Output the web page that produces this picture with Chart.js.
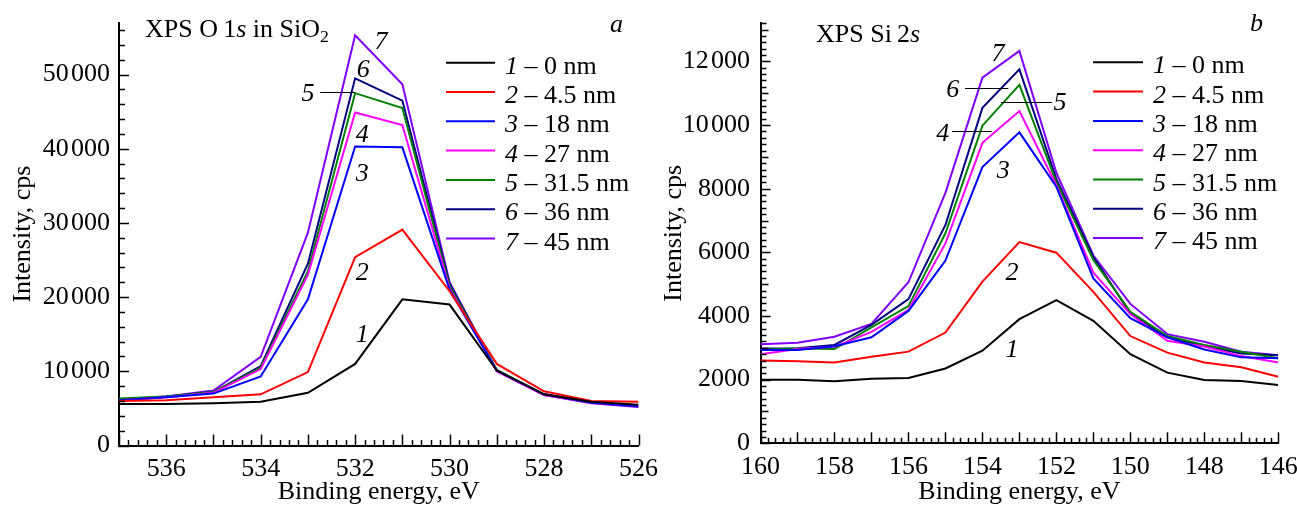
<!DOCTYPE html>
<html>
<head>
<meta charset="utf-8">
<script src="https://cdn.jsdelivr.net/npm/chart.js@4.4.1/dist/chart.umd.min.js"></script>
<style>
  html, body { margin: 0; padding: 0; background: #fff; }
  #wrap { position: relative; width: 1297px; height: 510px; overflow: hidden; }
  #cA { position: absolute; left: 0; top: 0; }
  #cB { position: absolute; left: 640px; top: 0; }
</style>
</head>
<body>
<div id="wrap">
  <canvas id="cA" width="665" height="510"></canvas>
  <canvas id="cB" width="657" height="510"></canvas>
</div>
<script>
// ---- O 1s spectra (binding energy, eV; intensity, cps) ----
const energyO = [537, 536, 535, 534, 533, 532, 531, 530, 529, 528, 527, 526];
const o1s_0nm    = [5600, 5600, 5700, 5900, 7100, 11000, 19700, 19000, 10100, 6900, 5900, 5500];
const o1s_4_5nm  = [6000, 6100, 6500, 6900, 9900, 25400, 29100, 20800, 11000, 7300, 6000, 5900];
const o1s_18nm   = [6100, 6500, 7000, 9300, 19700, 40300, 40200, 21000, 10100, 6900, 5800, 5300];
const o1s_27nm   = [6100, 6500, 7100, 10300, 23000, 44900, 43200, 21200, 10000, 6800, 5800, 5300];
const o1s_31_5nm = [6350, 6600, 7200, 10500, 23500, 47500, 45500, 21500, 10200, 6900, 5800, 5400];
const o1s_36nm   = [6200, 6600, 7200, 10700, 24500, 49500, 46500, 21800, 10100, 6900, 5800, 5300];
const o1s_45nm   = [6000, 6600, 7400, 11950, 28700, 55300, 48700, 22000, 10000, 6800, 5700, 5200];

// ---- Si 2s spectra ----
const energySi = [160, 159, 158, 157, 156, 155, 154, 153, 152, 151, 150, 149, 148, 147, 146];
const si_0nm    = [2000, 2000, 1950, 2030, 2050, 2350, 2910, 3900, 4500, 3850, 2800, 2220, 1990, 1960, 1830];
const si_4_5nm  = [2600, 2580, 2540, 2720, 2880, 3480, 5080, 6320, 5990, 4760, 3370, 2850, 2540, 2390, 2090];
const si_18nm   = [2930, 2930, 3050, 3330, 4160, 5740, 8680, 9770, 8060, 5180, 3930, 3330, 2950, 2700, 2670];
const si_27nm   = [2800, 2960, 3030, 3500, 4190, 6280, 9440, 10440, 8110, 5360, 4060, 3220, 3040, 2740, 2540];
const si_31_5nm = [2950, 2980, 2960, 3640, 4310, 6600, 9980, 11260, 8200, 5760, 4130, 3370, 3090, 2880, 2670];
const si_36nm   = [2980, 2990, 3090, 3720, 4530, 6860, 10540, 11750, 8300, 5860, 4080, 3330, 3060, 2820, 2770];
const si_45nm   = [3110, 3160, 3350, 3750, 5060, 7870, 11490, 12330, 8500, 5900, 4380, 3430, 3190, 2880, 2770];

// ---- curve numbering and depth labels ----
const curveNumbers = ['1', '2', '3', '4', '5', '6', '7'];
const depthLabels = ['0 nm', '4.5 nm', '18 nm', '27 nm', '31.5 nm', '36 nm', '45 nm'];
const curveColors = ['#000000', '#ff0000', '#0000ff', '#ff00ff', '#008000', '#000080', '#8000ff'];

// y-axis tick labels
const yTicksO = [0, 10000, 20000, 30000, 40000, 50000];
const yTicksSi = [0, 2000, 4000, 6000, 8000, 10000, 12000];

// curve number callouts: [curve index, energy, intensity] and optional leader [e1, e2, intensity]
const calloutsO = [
  { n: 6, e: 531.45, v: 54600 },
  { n: 5, e: 531.83, v: 50800 },
  { n: 4, e: 533.0, v: 47600, lead: [532.74, 532.0, 47600] },
  { n: 3, e: 531.85, v: 42060 },
  { n: 2, e: 531.85, v: 36800 },
  { n: 1, e: 531.85, v: 23400 },
  { n: 0, e: 531.85, v: 15140 }
];
const calloutsSi = [
  { n: 6, e: 153.58, v: 12290 },
  { n: 5, e: 154.80, v: 11160, lead: [154.47, 153.3, 11170] },
  { n: 4, e: 151.90, v: 10730, lead: [153.5, 152.12, 10720] },
  { n: 3, e: 155.07, v: 9750, lead: [154.82, 153.75, 9810] },
  { n: 2, e: 153.44, v: 8590 },
  { n: 1, e: 153.20, v: 5390 },
  { n: 0, e: 153.20, v: 2990 }
];

const SERIF = '"Liberation Serif", "Times New Roman", serif';
const FS = 26;

function fmtThousands(v) {
  const s = String(v);
  return v >= 10000 ? s.slice(0, s.length - 3) + '\u200A' + s.slice(-3) : s;
}

// mixed upright / italic / subscript text
function richText(ctx, parts, x, y, size) {
  let cx = x;
  for (const p of parts) {
    const fs = p.sub ? size * 0.68 : size;
    ctx.font = (p.i ? 'italic ' : '') + fs + 'px ' + SERIF;
    ctx.fillText(p.t, cx, p.sub ? y + size * 0.2 : y);
    cx += ctx.measureText(p.t).width;
  }
  return cx;
}

// inward major/minor tick marks drawn from the chart's scales
const tickMarks = {
  id: 'tickMarks',
  afterDraw(chart, args, o) {
    const ctx = chart.ctx, a = chart.chartArea;
    const xs = chart.scales.x, ys = chart.scales.y;
    ctx.save();
    ctx.strokeStyle = '#000';
    ctx.lineWidth = 1.5;
    const isMult = (v, s) => Math.abs(v / s - Math.round(v / s)) < 1e-6;
    const nx = Math.round((xs.max - xs.min) / o.xMinor);
    for (let i = 0; i <= nx; i++) {
      const v = xs.min + i * o.xMinor;
      const px = Math.round(xs.getPixelForValue(v)) + 0.5;
      const len = isMult(v, o.xMajor) ? 11 : 5.5;
      ctx.beginPath(); ctx.moveTo(px, a.bottom); ctx.lineTo(px, a.bottom - len); ctx.stroke();
    }
    const ny = Math.floor((ys.max - ys.min) / o.yMinor + 1e-6);
    for (let i = 0; i <= ny; i++) {
      const v = ys.min + i * o.yMinor;
      const py = Math.round(ys.getPixelForValue(v)) + 0.5;
      const len = isMult(v, o.yMajor) ? 10 : (o.yMid && isMult(v, o.yMid) ? 8 : 6);
      ctx.beginPath(); ctx.moveTo(a.left, py); ctx.lineTo(a.left + len, py); ctx.stroke();
    }
    ctx.restore();
  }
};

// legend, title, panel letter and curve callouts
const annotations = {
  id: 'annotations',
  afterDraw(chart, args, o) {
    const ctx = chart.ctx;
    const xs = chart.scales.x, ys = chart.scales.y;
    ctx.save();
    ctx.fillStyle = '#000';
    ctx.textAlign = 'left';
    ctx.textBaseline = 'alphabetic';
    // title
    richText(ctx, o.title, o.titleX, o.titleY, FS);
    // panel letter
    richText(ctx, [{ t: o.letter, i: true }], o.letterX, o.letterY, FS);
    // legend
    chart.data.datasets.forEach((ds, k) => {
      const y = o.legY + k * o.legDy;
      ctx.strokeStyle = ds.borderColor;
      ctx.lineWidth = 2;
      ctx.beginPath(); ctx.moveTo(o.legX, y); ctx.lineTo(o.legX + o.legLen, y); ctx.stroke();
      ctx.fillStyle = '#000';
      richText(ctx, [{ t: curveNumbers[k], i: true }, { t: ' \u2013 ' + depthLabels[k] }],
        o.legX + o.legLen + 10, y + 11, FS);
    });
    // callouts
    ctx.textAlign = 'center';
    ctx.font = 'italic ' + FS + 'px ' + SERIF;
    ctx.strokeStyle = '#000';
    ctx.lineWidth = 1.2;
    for (const c of o.callouts) {
      const px = xs.getPixelForValue(c.e), py = ys.getPixelForValue(c.v);
      ctx.fillText(curveNumbers[c.n], px, py + 8.5);
      if (c.lead) {
        const ly = Math.round(ys.getPixelForValue(c.lead[2])) + 0.5;
        ctx.beginPath();
        ctx.moveTo(xs.getPixelForValue(c.lead[0]), ly);
        ctx.lineTo(xs.getPixelForValue(c.lead[1]), ly);
        ctx.stroke();
      }
    }
    ctx.restore();
  }
};

function makeDatasets(series) {
  return series.map((d, k) => ({
    label: curveNumbers[k] + ' \u2013 ' + depthLabels[k],
    data: d,
    borderColor: curveColors[k],
    backgroundColor: curveColors[k],
    borderWidth: 2,
    pointRadius: 0,
    tension: 0,
    fill: false
  }));
}

function makeChart(canvas, cfg) {
  return new Chart(canvas, {
    type: 'line',
    data: {
      labels: cfg.energy,
      datasets: makeDatasets(cfg.series).map(ds => ({
        ...ds,
        data: ds.data.map((v, i) => ({ x: cfg.energy[i], y: v }))
      }))
    },
    options: {
      responsive: false,
      animation: false,
      devicePixelRatio: 1,
      layout: { padding: cfg.pad },
      plugins: {
        legend: { display: false },
        tooltip: { enabled: false },
        tickMarks: cfg.ticks,
        annotations: cfg.ann
      },
      scales: {
        x: {
          type: 'linear',
          reverse: true,
          min: cfg.xMin, max: cfg.xMax,
          afterFit: s => { s.height = cfg.xHeight; s.paddingLeft = 0; s.paddingRight = 0; },
          border: { display: true, color: '#000', width: 2 },
          grid: { display: true, drawOnChartArea: false, drawTicks: false },
          ticks: {
            stepSize: 2,
            includeBounds: false,
            autoSkip: false,
            maxRotation: 0,
            padding: cfg.xTickPad,
            color: '#000',
            font: { family: SERIF, size: FS },
            callback: v => String(v)
          },
          title: {
            display: true,
            text: 'Binding energy, eV',
            color: '#000',
            font: { family: SERIF, size: FS },
            padding: { top: 0, bottom: cfg.xTitlePad }
          }
        },
        y: {
          type: 'linear',
          min: 0, max: cfg.yMax,
          afterFit: s => { s.width = cfg.yWidth; s.paddingTop = 0; s.paddingBottom = 0; },
          afterBuildTicks: s => { s.ticks = cfg.yTicks.map(v => ({ value: v })); },
          border: { display: true, color: '#000', width: 2 },
          grid: { display: true, drawOnChartArea: false, drawTicks: false },
          ticks: {
            padding: cfg.yTickPad,
            color: '#000',
            font: { family: SERIF, size: FS },
            callback: v => fmtThousands(v)
          },
          title: {
            display: true,
            text: 'Intensity, cps',
            color: '#000',
            font: { family: SERIF, size: FS },
            padding: { top: cfg.yTitlePad, bottom: 0 }
          }
        }
      }
    },
    plugins: [tickMarks, annotations]
  });
}

// left panel: canvas origin at page x = 0
makeChart(document.getElementById('cA'), {
  energy: energyO,
  series: [o1s_0nm, o1s_4_5nm, o1s_18nm, o1s_27nm, o1s_31_5nm, o1s_36nm, o1s_45nm],
  xMin: 526, xMax: 537, yMax: 57000, yTicks: yTicksO,
  pad: { left: 0, right: 26.5, top: 22.7, bottom: 0 },
  xHeight: 64.5, yWidth: 119,
  xTickPad: 8, yTickPad: 9, xTitlePad: 2, yTitlePad: 7.5,
  ticks: { xMinor: 0.2, xMajor: 1, yMinor: 2000, yMajor: 10000 },
  ann: {
    title: [{ t: 'XPS O\u20091' }, { t: 's', i: true }, { t: ' in SiO' }, { t: '2', sub: true }],
    titleX: 145, titleY: 36.7,
    letter: 'a', letterX: 610, letterY: 31.7,
    legX: 446, legY: 62.7, legDy: 29.3, legLen: 49,
    callouts: calloutsO
  }
});

// right panel: canvas origin at page x = 640
const OX = 640;
makeChart(document.getElementById('cB'), {
  energy: energySi,
  series: [si_0nm, si_4_5nm, si_18nm, si_27nm, si_31_5nm, si_36nm, si_45nm],
  xMin: 146, xMax: 160, yMax: 13200, yTicks: yTicksSi,
  pad: { left: 0, right: 18.7, top: 23.2, bottom: 0 },
  xHeight: 66.7, yWidth: 120.5,
  xTickPad: 8, yTickPad: 10.5, xTitlePad: 2, yTitlePad: 19,
  ticks: { xMinor: 0.2, xMajor: 1, yMinor: 200, yMajor: 2000, yMid: 1000 },
  ann: {
    title: [{ t: 'XPS Si\u20092' }, { t: 's', i: true }],
    titleX: 816 - OX, titleY: 42.3,
    letter: 'b', letterX: 1250 - OX, letterY: 30.5,
    legX: 1093 - OX, legY: 62.3, legDy: 29.3, legLen: 50,
    callouts: calloutsSi
  }
});
</script>
</body>
</html>
